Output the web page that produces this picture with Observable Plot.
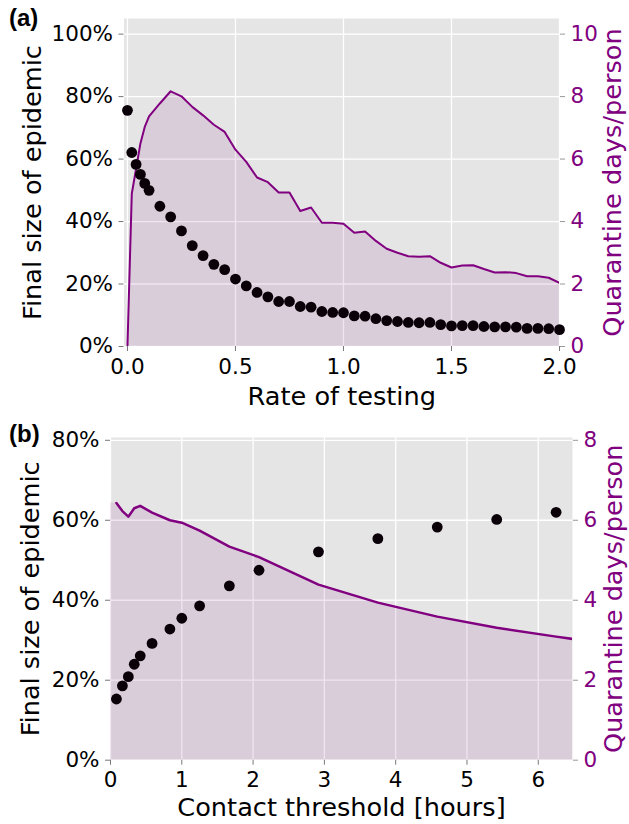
<!DOCTYPE html>
<html><head><meta charset="utf-8">
<script src="https://cdn.jsdelivr.net/npm/d3@7"></script>
<script src="https://cdn.jsdelivr.net/npm/@observablehq/plot@0.6"></script>
<style>
body{margin:0;background:#fff;}
#wrap{position:relative;width:629px;height:824px;font-family:"DejaVu Sans",sans-serif;overflow:hidden;}
.panel{position:absolute;left:0;}
.tag{position:absolute;font-family:"Liberation Sans",Arial,sans-serif;font-weight:bold;font-size:24px;color:#000;}
</style></head><body>
<div id="wrap"></div>
<script>
// ---------- Panel (a): rate of testing ----------
const aRate = [0,0.02,0.04,0.06,0.08,0.1,0.15,0.2,0.25,0.3,0.35,0.4,0.45,0.5,0.55,0.6,0.65,0.7,0.75,0.8,0.85,0.9,0.95,1.0,1.05,1.1,1.15,1.2,1.25,1.3,1.35,1.4,1.45,1.5,1.55,1.6,1.65,1.7,1.75,1.8,1.85,1.9,1.95,2.0];
const aFinalPct = [75.6,62.1,58.3,55.1,52.2,50.0,44.9,41.5,37.0,32.3,29.1,26.3,24.6,21.6,19.4,17.3,15.9,14.4,14.4,12.8,12.6,11.2,10.9,10.8,9.8,9.7,8.9,8.3,8.0,7.7,7.6,7.7,7.0,6.6,6.7,6.7,6.4,6.3,6.3,6.2,5.8,5.8,5.7,5.4];
const aQuarDays = [0,4.89,5.69,6.50,7.03,7.37,7.78,8.17,8.01,7.67,7.40,7.10,6.87,6.30,5.91,5.41,5.26,4.93,4.93,4.34,4.45,3.96,3.96,3.93,3.64,3.68,3.38,3.13,3.00,2.89,2.87,2.89,2.68,2.53,2.59,2.60,2.48,2.37,2.38,2.35,2.25,2.25,2.20,2.04];
const aXTicks = [0,0.5,1.0,1.5,2.0];

// ---------- Panel (b): contact threshold ----------
const bHours = [0.083,0.167,0.25,0.333,0.417,0.583,0.833,1.0,1.25,1.667,2.083,2.917,3.75,4.583,5.417,6.25];
const bFinalPct = [15.3,18.6,20.9,24.0,26.1,29.2,32.8,35.5,38.6,43.6,47.5,52.1,55.4,58.3,60.2,62.0];
const bLineHours = [0.083,0.167,0.25,0.333,0.417,0.583,0.833,1.0,1.25,1.667,2.083,2.917,3.75,4.583,5.417,6.25,7.083];
const bQuarDays = [6.43,6.23,6.09,6.30,6.36,6.19,6.00,5.94,5.74,5.34,5.08,4.39,3.94,3.59,3.31,3.09,2.88];
const bAreaStart = {x: 0, days: 6.43};
const bXTicks = [0,1,2,3,4,5,6];

const yTicksPct = {a: [0,0.2,0.4,0.6,0.8,1.0], b: [0,0.2,0.4,0.6,0.8]};

const purple = "purple";

function makePanel(o) {
  const dots = o.x.map((x, i) => ({x, final: o.final[i]}));
  const line = o.lx.map((x, i) => ({x, days: o.days[i]}));
  const area = o.areaPrefix ? [o.areaPrefix, ...line] : line;
  return Plot.plot({
    width: 629, height: o.height,
    marginTop: o.mt, marginBottom: o.mb, marginLeft: o.ml, marginRight: o.mr,
    style: {fontFamily: "DejaVu Sans", fontSize: "21.5px", background: "transparent", color: "#000", overflow: "visible"},
    x: {domain: o.xDomain},
    y: {domain: [0, o.yMax]},
    marks: [
      Plot.frame({fill: "#e5e5e5", stroke: "none"}),
      Plot.gridX(o.xTicks, {stroke: "white", strokeOpacity: 1, strokeWidth: 1.3}),
      Plot.gridY(o.yTicks, {stroke: "white", strokeOpacity: 1, strokeWidth: 1.3}),
      Plot.areaY(area, {x: "x", y: d => d.days / 10, fill: purple, fillOpacity: 0.1, clip: true}),
      Plot.lineY(line, {x: "x", y: d => d.days / 10, stroke: purple, strokeWidth: o.lw, clip: true}),
      Plot.dot(dots, {x: "x", y: d => d.final / 100, r: 5.4, fill: "#0a0008", stroke: "none"}),
      Plot.axisX(o.xTicks, {tickFormat: o.xFormat, tickSize: 5, tickPadding: 7, stroke: "#777", fill: "#000", label: null}),
      Plot.axisY(o.yTicks, {anchor: "left", tickFormat: d => Math.round(d * 100) + "%", tickSize: 5, tickPadding: 6, stroke: "#777", fill: "#000", label: null}),
      Plot.axisY(o.yTicks, {anchor: "right", tickFormat: d => String(Math.round(d * 10)), tickSize: 5, tickPadding: 6, stroke: "#999", fill: purple, label: null}),
      Plot.text([o.xLabel], {frameAnchor: "bottom", lineAnchor: "middle", textAnchor: "middle", dy: o.xLabelDy, fontSize: 25.6, fill: "#000"}),
      Plot.text(["Final size of epidemic"], {frameAnchor: "left", textAnchor: "middle", lineAnchor: "middle", rotate: -90, dx: o.leftDx, fontSize: 25.6, fill: "#000"}),
      Plot.text(["Quarantine days/person"], {frameAnchor: "right", textAnchor: "middle", lineAnchor: "middle", rotate: -90, dx: o.rightDx, fontSize: 25.6, fill: purple})
    ]
  });
}

const wrap = document.getElementById("wrap");

const pa = makePanel({
  x: aRate, final: aFinalPct, lx: aRate, days: aQuarDays,
  height: 410, mt: 18, mb: 64, ml: 123.5, mr: 70,
  xDomain: [-0.016, 2.0], yMax: 1.05, xTicks: aXTicks, yTicks: yTicksPct.a,
  xFormat: d => d.toFixed(1), xLabel: "Rate of testing", xLabelDy: 50,
  leftDx: -91.5, rightDx: 53, lw: 2
});
pa.classList.add("panel"); pa.style.top = "0px";
wrap.appendChild(pa);

const pb = makePanel({
  x: bHours, final: bFinalPct, lx: bLineHours, days: bQuarDays, areaPrefix: bAreaStart,
  height: 414, mt: 27, mb: 64.3, ml: 110, mr: 57,
  xDomain: [0, 6.48], yMax: 0.807, xTicks: bXTicks, yTicks: yTicksPct.b,
  xFormat: d => String(d), xLabel: "Contact threshold [hours]", xLabelDy: 48,
  leftDx: -80, rightDx: 41, lw: 2.5
});
pb.classList.add("panel"); pb.style.top = "410px";
wrap.appendChild(pb);

const ta = document.createElement("div"); ta.className = "tag"; ta.textContent = "(a)";
ta.style.left = "9px"; ta.style.top = "4px"; wrap.appendChild(ta);
const tb = document.createElement("div"); tb.className = "tag"; tb.textContent = "(b)";
tb.style.left = "9px"; tb.style.top = "420px"; wrap.appendChild(tb);
</script>
</body></html>
